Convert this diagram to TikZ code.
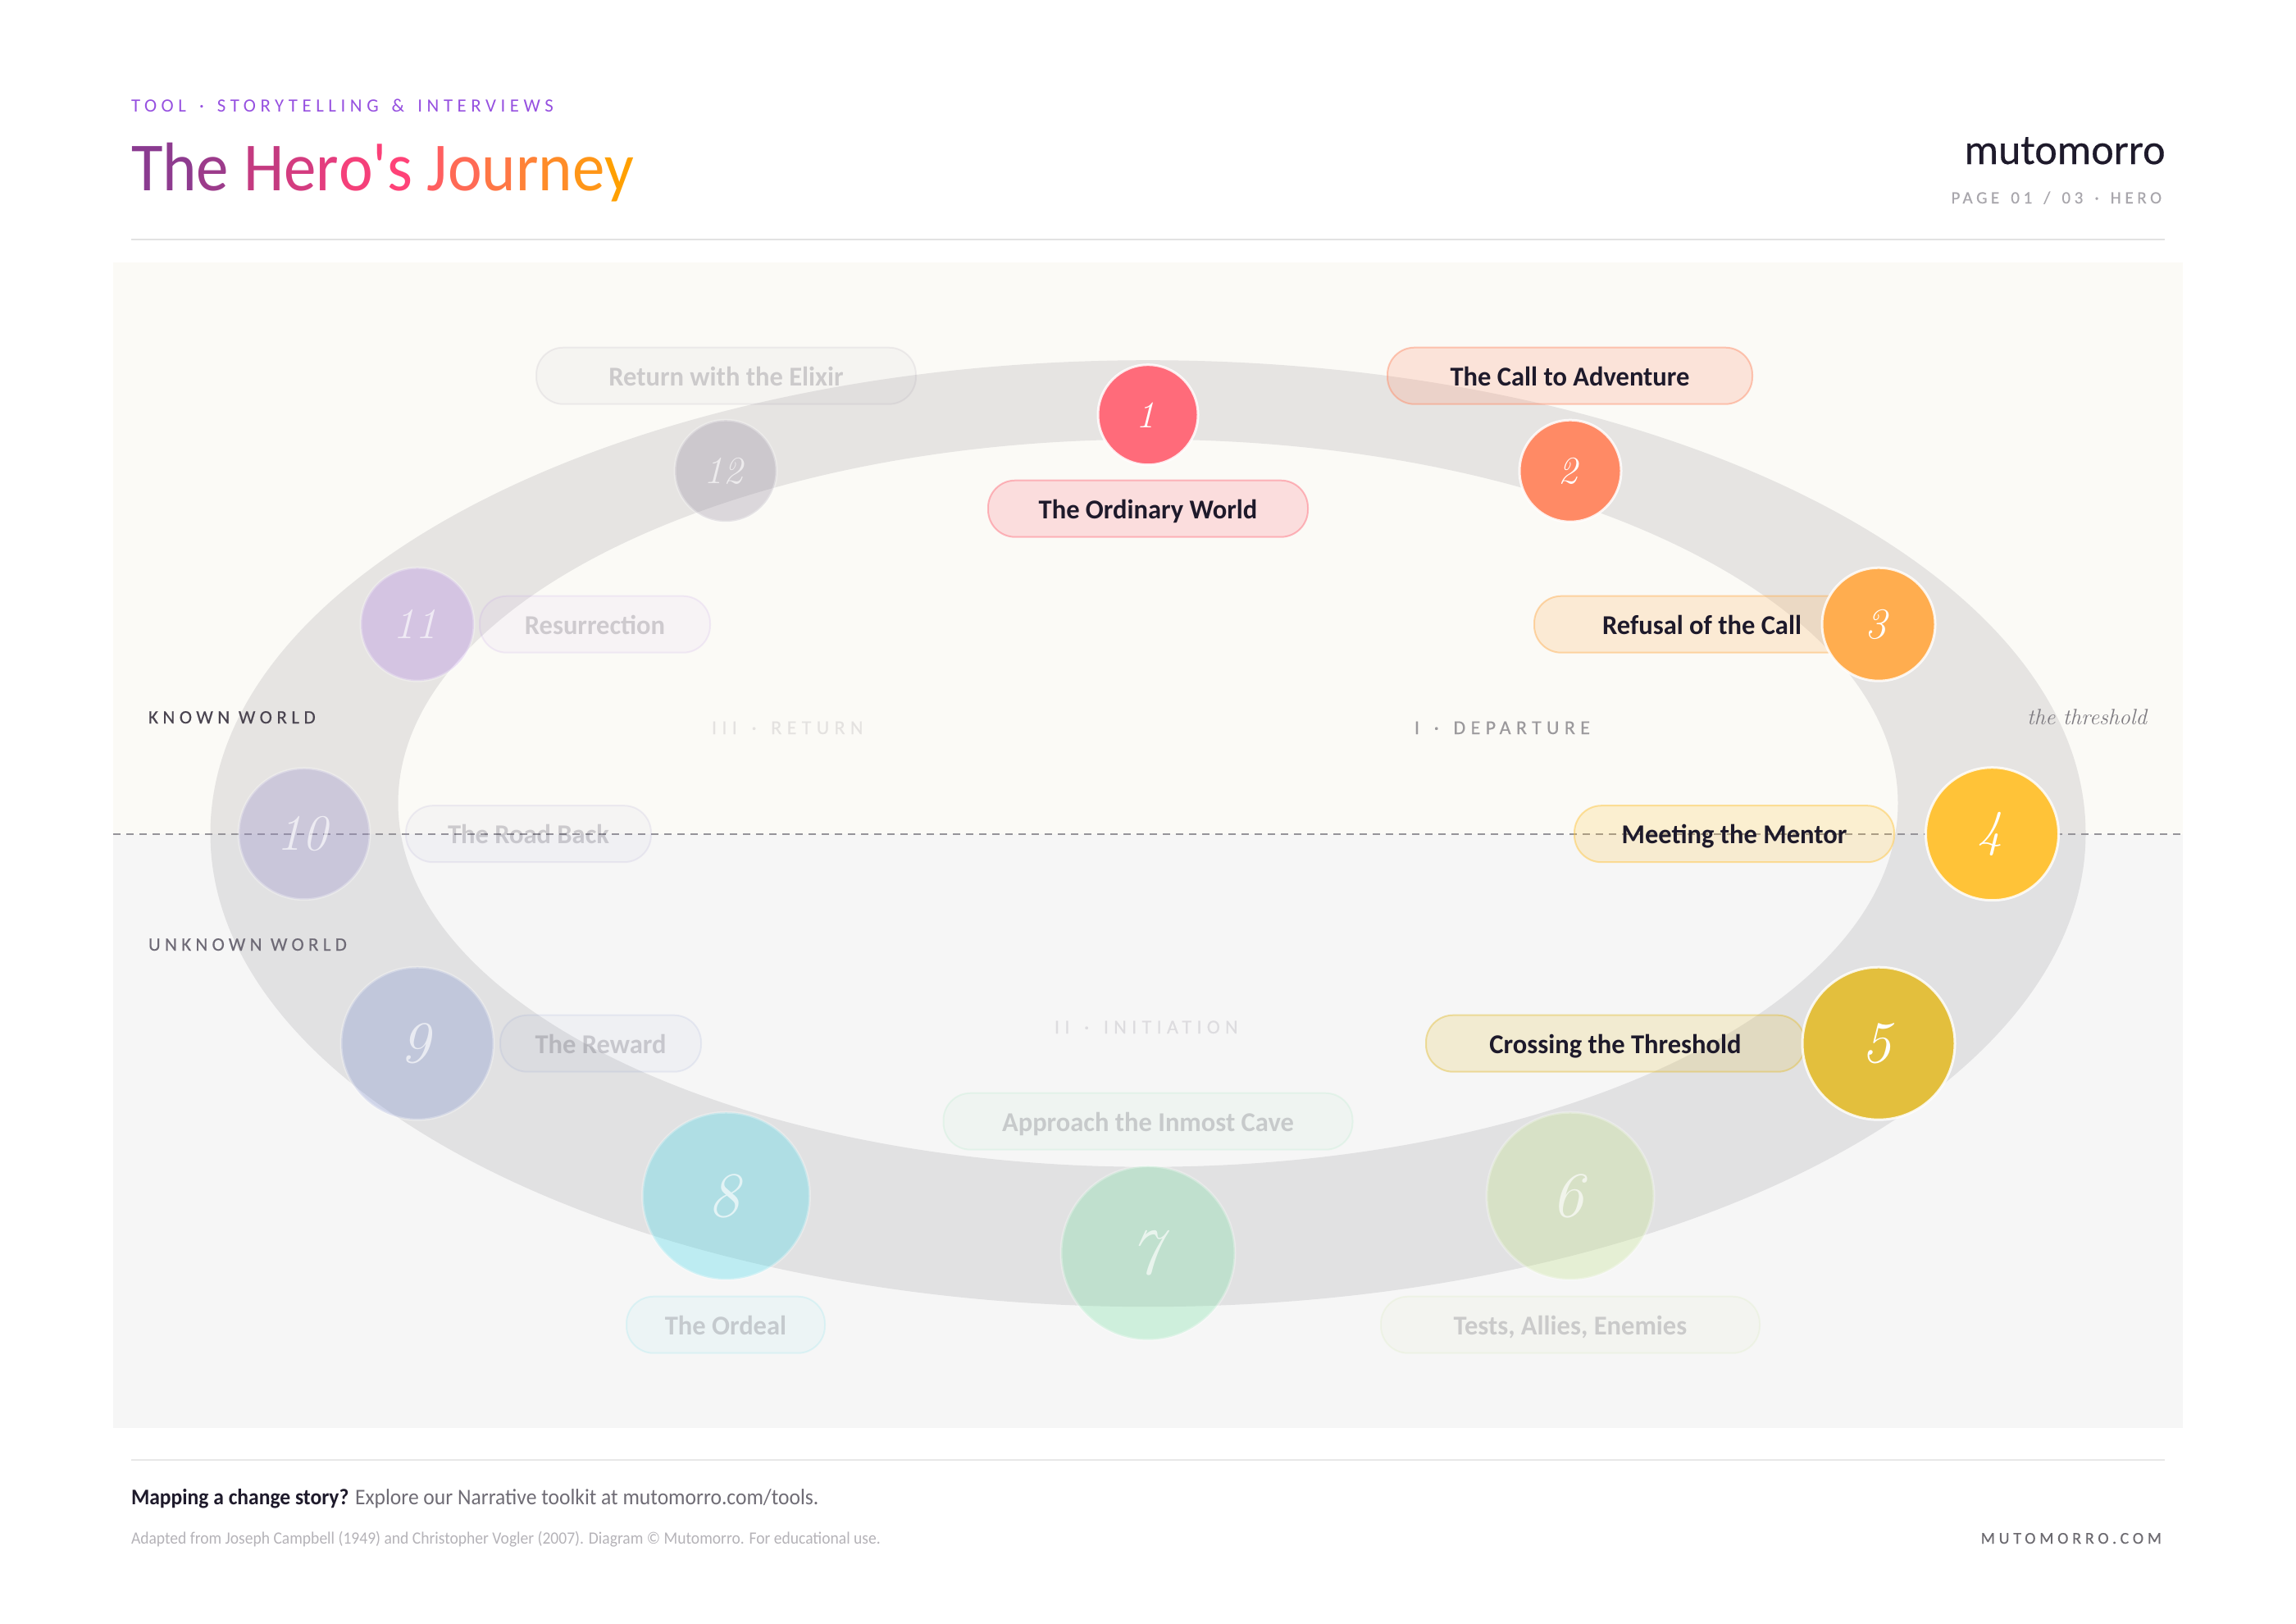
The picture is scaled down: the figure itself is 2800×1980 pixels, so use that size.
\documentclass[tikz,border=0pt]{standalone}
\usepackage{fontspec}
\newfontfamily\sansr{Carlito}
\newfontfamily\sansw{Carlito}[WordSpace=1.5]
\newfontfamily\sansn{Carlito}[FakeStretch=.94]
\newfontfamily\sansf{Carlito}[FakeStretch=.931]
\newfontfamily\sansl{Carlito}[FakeStretch=.98]
\definecolor{ink}{HTML}{1E1A2B}
\definecolor{cone}{HTML}{FF6B7A}
\definecolor{ctwo}{HTML}{FF8A65}
\definecolor{cthree}{HTML}{FFAD4F}
\definecolor{cfour}{HTML}{FFC338}
\definecolor{cfive}{HTML}{E3BF3D}
\definecolor{csix}{HTML}{C1E288}
\definecolor{cseven}{HTML}{74DFA0}
\definecolor{ceight}{HTML}{3CD8E9}
\definecolor{cnine}{HTML}{7A8CCB}
\definecolor{cten}{HTML}{9389C8}
\definecolor{celeven}{HTML}{AD7BE4}
\definecolor{ctwelve}{HTML}{93899E}
\newcommand{\spc}[2]{\sansw\addfontfeatures{LetterSpace=#2}\fontsize{#1}{#1}\selectfont}
\newcommand{\spcb}[2]{\sansr\addfontfeatures{LetterSpace=#2,FakeBold=.35}\fontsize{#1}{#1}\selectfont}
\newcommand{\spcw}[2]{\sansw\addfontfeatures{LetterSpace=#2,FakeBold=.35}\fontsize{#1}{#1}\selectfont}
\newcommand{\lbf}{\sansl\bfseries\fontsize{16.6}{18}\selectfont}
\tikzset{
  x=0.5pt,y=-0.5pt,
  txt/.style={inner sep=0,outer sep=0,anchor=base west},
  txtr/.style={inner sep=0,outer sep=0,anchor=base east},
  dotbase/.style n args={3}{circle,inner sep=0,minimum size=#2*.5pt,fill=#1,draw=white,line width=1.5pt,
     font=\itshape\fontsize{#3}{#3}\selectfont,text=white,execute at begin node={\kern-3pt}},
  dotA/.style n args={3}{dotbase={#1}{#2}{#3},fill opacity=1,draw opacity=.85,text opacity=1},
  dotB/.style n args={3}{dotbase={#1}{#2}{#3},fill opacity=.3,draw opacity=.3,text opacity=.65},
  pillbase/.style n args={2}{rectangle,rounded corners=16.5pt,inner sep=0,minimum height=34.5pt,minimum width=#2*.5pt,
     fill=#1,draw=#1,line width=1pt,font=\lbf,text height=12.5pt,text depth=.5pt},
  pillA/.style n args={2}{pillbase={#1}{#2},fill opacity=.2,draw opacity=.45,text=ink,text opacity=1},
  pillB/.style n args={2}{pillbase={#1}{#2},fill opacity=.05,draw opacity=.12,text=ink,text opacity=.19},
}
\begin{document}
\begin{tikzpicture}
\useasboundingbox (0,0) rectangle (2800,1980);
\fill[white] (0,0) rectangle (2800,1980);
% panels
\fill[color={rgb,255:red,251;green,250;blue,246}] (138,320) rectangle (2662,1017);
\fill[color={rgb,255:red,246;green,246;blue,246}] (138,1017) rectangle (2662,1741);
\begin{scope}[yshift=-.6pt]
% ring
\fill[ink,fill opacity=.095,even odd rule] (1400,1015) ellipse [x radius=1143.5,y radius=577]
   (1400,978) ellipse [x radius=914.5,y radius=443.5];
% threshold
\coordinate (dl) at (138,1016);
\coordinate (dr) at (2662,1016);
\draw[color={rgb,255:red,150;green,148;blue,153},line width=1pt,dash pattern=on 4.5pt off 3.5pt] (dl) -- (dr);
% pills
\node[pillA={cone}{390}]   (p1)  at (1400,619) {The Ordinary World};
\node[pillA={ctwo}{445}]   (p2)  at (1914.5,457) {The Call to Adventure};
\node[pillA={cthree}{409}] (p3)  at (2075.5,760) {Refusal of the Call};
\node[pillA={cfour}{390}]  (p4)  at (2115,1015.5) {Meeting the Mentor};
\node[pillA={cfive}{462}]  (p5)  at (1970,1271) {Crossing the Threshold};
\node[pillB={csix}{462}]   (p6)  at (1915,1614) {Tests, Allies, Enemies};
\node[pillB={cseven}{499}] (p7)  at (1400,1366) {Approach the Inmost Cave};
\node[pillB={ceight}{242}] (p8)  at (885,1614) {The Ordeal};
\node[pillB={cnine}{245}]  (p9)  at (732.5,1271) {The Reward};
\node[pillB={cten}{299}]   (p10) at (644.5,1015.5) {The Road Back};
\node[pillB={celeven}{281}](p11) at (725.5,760) {Resurrection};
\node[pillB={ctwelve}{463}](p12) at (885.5,457) {Return with the Elixir};
% stations
\node[dotA={cone}{122}{23}]    (c1)  at (1400,504.5) {1};
\node[dotA={ctwo}{124}{23.5}]  (c2)  at (1915,573) {2};
\node[dotA={cthree}{138}{26.5}](c3)  at (2291,760) {3};
\node[dotA={cfour}{162}{31}]   (c4)  at (2429.5,1015.5) {4};
\node[dotA={cfive}{186}{36}]   (c5)  at (2291,1271) {5};
\node[dotB={csix}{204}{39}]    (c6)  at (1915,1457) {6};
\node[dotB={cseven}{212}{40}]  (c7)  at (1400,1526.5) {7};
\node[dotB={ceight}{204}{39}]  (c8)  at (885.5,1457) {8};
\node[dotB={cnine}{186}{36}]   (c9)  at (509,1271) {9};
\node[dotB={cten}{160}{31}]    (c10) at (371,1015.5) {10};
\node[dotB={celeven}{138}{26.5}](c11) at (509,760) {11};
\node[dotB={ctwelve}{124}{23.5}](c12) at (885,573) {12};
\end{scope}
% rules
\coordinate (ra) at (160,292); \coordinate (rb) at (2640,292);
\coordinate (rc) at (160,1780); \coordinate (rd) at (2640,1780);
\draw[color={rgb,255:red,226;green,226;blue,226},line width=1pt] (ra) -- (rb);
\draw[color={rgb,255:red,232;green,232;blue,232},line width=1pt] (rc) -- (rd);
% header
\node[txt,text={rgb,255:red,150;green,80;blue,224},font=\spc{11.4}{24.5}] (kicker) at (160,136) {TOOL · STORYTELLING \& INTERVIEWS};
\node[txt,font=\sansn\fontsize{42}{44}\selectfont] (title) at (160,232) {\textcolor[HTML]{8A3B90}{T}\textcolor[HTML]{8E3B8F}{h}\textcolor[HTML]{9C3B8B}{e} \textcolor[HTML]{C43A80}{H}\textcolor[HTML]{D43C80}{e}\textcolor[HTML]{E43D7E}{r}\textcolor[HTML]{F5407A}{o}\textcolor[HTML]{FB4078}{'}\textcolor[HTML]{FF4278}{s} \textcolor[HTML]{FF5F60}{J}\textcolor[HTML]{FF6A55}{o}\textcolor[HTML]{FF7745}{u}\textcolor[HTML]{FF8238}{r}\textcolor[HTML]{FF8C28}{n}\textcolor[HTML]{FF9618}{e}\textcolor[HTML]{FFA000}{y}};
\node[txtr,text=ink,font=\sansr\addfontfeatures{FakeBold=.3}\fontsize{26}{30}\selectfont] (brand) at (2640.5,200) {mutomorro};
\node[txtr,text={rgb,255:red,168;green,166;blue,172},font=\spcw{10.5}{22}] (page) at (2636,248) {PAGE 01 / 03 · HERO};
% world labels
\node[txt,text={rgb,255:red,74;green,68;blue,80},font=\spcb{11.5}{24}] (known) at (181,882) {KNOWN WORLD};
\node[txt,text={rgb,255:red,110;green,106;blue,118},font=\spcb{11.5}{23}] (unknown) at (181,1159) {UNKNOWN WORLD};
\node[txt,text={rgb,255:red,125;green,122;blue,128},font=\itshape\fontsize{13.5}{14}\selectfont] (thr) at (2472,883) {the threshold};
% acts
\node[txt,text={rgb,255:red,228;green,226;blue,224},font=\spcw{12}{26.5}] (actiii) at (868,895) {III · RETURN};
\node[txt,text={rgb,255:red,155;green,153;blue,156},font=\spcw{12}{26.5}] (acti) at (1725,895) {I · DEPARTURE};
\node[txt,text={rgb,255:red,221;green,220;blue,223},font=\spcw{12}{26.5}] (actii) at (1286,1260) {II · INITIATION};
% footer
\node[txt,font=\sansn\fontsize{13.6}{16}\selectfont] (cta) at (160,1834) {\textcolor{ink}{\bfseries Mapping a change story?} \textcolor[HTML]{6F6C75}{Explore our Narrative toolkit at mutomorro.com/tools.}};
\node[txt,text={rgb,255:red,181;green,179;blue,184},font=\sansf\fontsize{10.5}{12}\selectfont] (fine) at (160,1882) {Adapted from Joseph Campbell (1949) and Christopher Vogler (2007). Diagram © Mutomorro. For educational use.};
\node[txtr,text={rgb,255:red,108;green,106;blue,112},font=\spcb{10}{24}] (site) at (2636,1882) {MUTOMORRO.COM};
\end{tikzpicture}
\end{document}
